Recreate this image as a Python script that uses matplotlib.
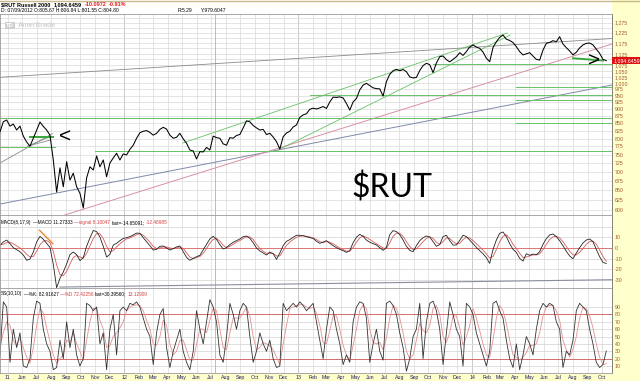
import matplotlib
matplotlib.use("Agg")
import matplotlib.pyplot as plt
import pandas as pd
from matplotlib.patches import Rectangle
from matplotlib.ticker import NullLocator

plt.rcParams["font.family"] = ["Liberation Sans", "DejaVu Sans"]

W, H = 640, 381

# weekly closes
weeks = pd.date_range("2011-04-15", periods=183, freq="W-FRI")
close = [
    822, 856, 862, 841, 848, 828, 841, 808, 789, 776,
    801, 828, 855, 840, 828, 811, 734, 645, 711, 659,
    729, 677, 696, 659, 642, 605, 683, 714, 705, 746,
    714, 734, 686, 725, 740, 754, 734, 752, 749, 766,
    779, 801, 819, 824, 826, 820, 811, 817, 830, 837,
    831, 811, 801, 804, 817, 799, 785, 764, 761, 737,
    759, 758, 772, 764, 808, 803, 801, 783, 779, 803,
    801, 810, 813, 835, 859, 856, 843, 835, 828, 830,
    813, 817, 805, 790, 767, 806, 818, 824, 838, 845,
    871, 880, 884, 900, 904, 901, 905, 910, 903, 927,
    945, 944, 946, 942, 921, 897, 927, 940, 973, 992,
    999, 990, 981, 978, 977, 949, 1006, 1036, 1051, 1057,
    1051, 1056, 1047, 1025, 1021, 1023, 1052, 1073, 1083, 1077,
    1043, 1084, 1112, 1115, 1099, 1089, 1100, 1112, 1130, 1118,
    1135, 1156, 1166, 1156, 1150, 1133, 1105, 1090, 1154, 1181,
    1202, 1213, 1193, 1187, 1177, 1158, 1135, 1120, 1125, 1130,
    1115, 1100, 1097, 1142, 1173, 1178, 1186, 1181, 1205, 1170,
    1153, 1138, 1120, 1132, 1152, 1166, 1173, 1175, 1166, 1146,
    1127, 1100, 1094.65,
]
macd = [
    2.5, 5.7, 7.5, 4.1, 0.3, -1.6, -3.5, -6.6, -11.6, -10.4,
    -3.8, 5.7, 11.0, 8.2, 4.4, 0.6, -15.4, -37.5, -28.6, -22.6,
    -15.1, -6.3, -3.8, -6.3, -11.9, -9.1, 1.6, 9.4, 16.5, 15.4,
    10.4, 1.6, -8.5, -6.0, 2.8, 4.4, 6.9, 9.1, 9.7, 10.7,
    12.3, 14.1, 13.8, 9.7, 6.0, 2.2, -1.9, -1.3, 1.6, 1.9,
    0.0, -1.9, -0.6, 1.0, 1.9, -3.5, -8.8, -11.6, -9.8, -8.2,
    -6.9, -1.6, 3.5, 8.5, 11.0, 8.2, 3.2, -0.9, 0.3, 3.2,
    5.4, 6.9, 8.5, 10.7, 11.3, 9.1, 5.0, 0.0, -2.8, -4.7,
    -6.6, -3.8, -5.4, -10.7, -4.7, 2.2, 6.3, 7.9, 10.1, 12.0,
    12.0, 11.6, 10.7, 9.7, 9.1, 6.3, 4.4, 5.7, 6.9, 4.4,
    2.2, 0.3, -1.3, -2.5, -4.1, -2.5, 5.0, 10.1, 12.9, 11.0,
    7.5, 5.4, 4.1, 2.8, 0.3, -2.2, 0.6, 12.6, 16.4, 15.4,
    12.6, 7.5, 1.6, -2.2, -3.5, 2.2, 6.9, 9.7, 11.3, 10.4,
    6.0, 1.6, 3.2, 10.7, 12.0, 6.9, 2.8, 2.8, 7.2, 12.0,
    10.7, 7.5, 4.1, 0.6, -2.5, -5.4, -9.1, -14.5, -1.3, 7.5,
    13.8, 15.1, 10.7, 4.1, -1.3, -4.1, -9.8, -12.3, -5.4, -6.9,
    -5.7, -6.3, -3.5, 3.5, 8.8, 12.3, 13.2, 10.7, 6.9, 2.2,
    -3.1, -7.5, -10.1, -4.7, 0.3, 4.7, 7.5, 8.5, 6.0, -1.3,
    -8.2, -13.5, -14.65,
]
signal = [
    3, 3.5, 5, 5.5, 4, 2, 0, -2.5, -6, -8.5,
    -8, -3, 3, 6.5, 7, 5, -3, -16, -25, -26,
    -22, -15, -9, -7, -8.5, -9.5, -5, 2, 9, 13.5,
    13.5, 9, 1.5, -3.5, -2.5, 1, 4, 6.5, 8.5, 9.5,
    11, 12.5, 13.5, 12, 9, 5.5, 1.5, -0.5, 0, 1,
    1, 0, -0.5, 0, 1, -0.5, -4.5, -8.5, -10, -9,
    -8, -5, -0.5, 4.5, 8.1, 9, 6.5, 2.5, 0.5, 1.5,
    3.5, 5.5, 7, 9, 10.5, 10.5, 8, 3.5, -0.5, -3,
    -5, -5, -5, -7.5, -7.5, -2.5, 2.5, 5.5, 8, 10,
    11, 11.5, 11, 10.5, 9.5, 8, 6, 5, 6, 5.5,
    4, 2, 0, -1.5, -3, -3, 0.5, 5.5, 9.5, 11.5,
    10, 8, 6, 4, 2, 0, -0.5, 5, 11, 14,
    14, 11, 6, 1.5, -1.5, -1, 2.5, 6, 9, 10.5,
    9, 5.5, 3.5, 6, 9.5, 9, 6, 4, 4.5, 8,
    10, 9.5, 7, 4, 1, -2, -5.5, -9.5, -8, -1.5,
    6, 11, 12.5, 9, 3.5, -0.5, -5, -9, -8.5, -7.5,
    -6.5, -6.5, -5.5, -1.5, 3.5, 8, 10.5, 11, 9.5, 6,
    1.5, -3, -6.5, -6.5, -4, -0.5, 3.5, 6, 6.5, 3.5,
    -2, -8, -12.49,
]
pct_k = [
    25, 97, 90, 15, 60, 35, 55, 10, 8, 20,
    75, 98, 95, 60, 40, 30, 5, 8, 45, 20,
    70, 35, 60, 25, 10, 20, 95, 92, 85, 90,
    40, 55, 5, 60, 80, 25, 85, 90, 85, 95,
    93, 97, 90, 75, 60, 50, 12, 55, 80, 88,
    35, 8, 30, 45, 60, 30, 15, 5, 30, 85,
    60, 40, 70, 100, 90, 70, 25, 15, 50, 95,
    80, 60, 85, 95, 90, 50, 15, 30, 55, 40,
    30, 45, 20, 8, 10, 95, 85, 90, 95, 90,
    97, 92, 85, 90, 95, 70, 45, 20, 60, 90,
    85, 60, 40, 12, 25, 15, 70, 90, 97, 95,
    75, 15, 40, 60, 30, 18, 95, 98, 92, 80,
    55, 35, 3, 20, 50, 60, 95, 20, 70, 95,
    98, 85, 60, 12, 55, 97, 80, 60, 50, 10,
    95, 90, 80, 55, 40, 25, 10, 30, 95, 98,
    85, 75, 45, 20, 8, 40, 5, 25, 50, 40,
    25, 60, 85, 95, 90, 95, 92, 70, 60, 8,
    30, 25, 45, 85, 95, 90, 85, 60, 40, 15,
    8, 12, 30.4,
]
pct_d = [
    35, 55, 70, 65, 45, 38, 48, 35, 22, 14,
    35, 65, 88, 82, 62, 43, 25, 14, 20, 25,
    45, 42, 55, 40, 30, 18, 45, 70, 88, 88,
    72, 60, 35, 38, 50, 55, 62, 70, 85, 90,
    92, 93, 92, 85, 72, 60, 40, 38, 50, 72,
    65, 40, 25, 30, 45, 45, 32, 18, 18, 40,
    60, 60, 55, 72, 88, 85, 60, 35, 32, 55,
    75, 75, 75, 82, 90, 78, 50, 32, 35, 42,
    40, 38, 32, 22, 12, 40, 65, 88, 90, 92,
    93, 93, 90, 88, 90, 82, 65, 42, 40, 58,
    78, 78, 60, 38, 25, 18, 38, 60, 85, 93,
    88, 60, 42, 40, 42, 32, 48, 75, 92, 88,
    75, 55, 30, 20, 25, 45, 68, 58, 55, 65,
    88, 92, 80, 50, 42, 55, 78, 78, 62, 38,
    50, 65, 88, 75, 58, 40, 25, 22, 45, 75,
    92, 85, 68, 45, 25, 22, 18, 22, 28, 38,
    38, 40, 55, 78, 90, 92, 92, 85, 72, 45,
    32, 22, 32, 50, 75, 90, 88, 78, 62, 40,
    22, 12, 13.1,
]

VIEW = (pd.Timestamp("2011-04-15"), pd.Timestamp("2014-10-22"))
CURSOR = pd.Timestamp("2012-07-09")
LAST = 1094.6459

grid_levels = list(range(600, 1301, 25))
label_levels = [v for v in grid_levels if v <= 1075 or v % 50 == 25]
macd_levels = [20, 10, 0, -10, -20, -30]
ss_levels = list(range(10, 100, 10))

# drawn studies: (start date, value, end date, value)
gray_lines = [("2011-04-15", 1023.6, "2014-10-22", 1196.4),
              ("2011-04-15", 725, "2011-08-03", 816),
              ("2011-06-12", 776, "2011-07-29", 806),
              ("2011-06-12", 776, "2011-07-29", 795)]
support_line = ("2011-04-15", 614.7, "2014-10-22", 992.3)
pink_line = ("2011-08-29", 588.2, "2014-10-22", 1170.3)
channel = [("2012-05-03", 785.7, "2014-03-16", 1223.2),
           ("2012-11-19", 763.9, "2014-03-22", 1213.4)]
green_levels = [(868.6, "2011-04-15", "2014-10-22"),
                (772, "2011-04-15", "2011-08-09"),
                (760, "2011-10-31", "2014-10-22"),
                (953, "2013-01-25", "2014-10-22"),
                (1079, "2013-10-11", "2014-10-22"),
                (985, "2014-04-03", "2014-10-22"),
                (934, "2014-04-03", "2014-10-22"),
                (852, "2014-04-03", "2014-10-22")]
green_thick = [("2011-06-17", 806, "2011-08-04", 806),
               ("2014-08-01", 1105, "2014-10-03", 1095)]
macd_orange = ("2011-07-07", 16.7, "2011-08-04", 4.1)
macd_gray = ("2011-08-19", -36.8, "2014-10-22", -29.9)

month_starts = pd.date_range("2011-05-01", "2014-10-01", freq="MS")
month_labels = []
for i, m in enumerate(month_starts):
    if i == 0 or m.month == 1:
        month_labels.append(m.strftime("%y"))
    else:
        month_labels.append(m.strftime("%b"))

GRID = "#d9d9d9"
YEARGRID = "#b4b4b4"
LABEL_C = "#a0592b"
GREEN = "#66c266"
RED_TXT = "#d84040"


def seg(ax, s, **kw):
    ax.plot([pd.Timestamp(s[0]), pd.Timestamp(s[2])], [s[1], s[3]], **kw)


def frac(x, y):
    return x / W, 1 - y / H


def make_axes(fig, top, bottom):
    ax = fig.add_axes([0, 1 - bottom / H, 612 / W, (bottom - top) / H])
    ax.set_facecolor("white")
    ax.set_xlim(*VIEW)
    for m in month_starts:
        ax.axvline(m, color=YEARGRID if m.month == 1 else GRID, lw=0.5, zorder=0)
    ax.axvline(CURSOR, color="#e89a9a", lw=0.6, zorder=1)
    ax.set_xticks([])
    for s in ax.spines.values():
        s.set_color("#9a9a9a")
        s.set_linewidth(0.6)
    ax.spines["right"].set_color("#6e6e6e")
    ax.tick_params(axis="y", left=False, labelleft=False, right=False,
                   labelright=True, length=0, pad=2, labelsize=3.8,
                   labelcolor=LABEL_C)
    return ax


def chain(fig, y, pieces, size, weight="normal", x0=1.0, gap=2.0):
    """write coloured pieces one after the other on a header row"""
    rend = fig.canvas.get_renderer()
    x = x0
    for txt, col in pieces:
        t = fig.text(*frac(x, y), txt, fontsize=size, color=col,
                     weight=weight, va="center")
        x = t.get_window_extent(renderer=rend).x1 + gap


fig = plt.figure(figsize=(W / 100, H / 100), dpi=100, facecolor="#ffffcc")

# ---- price panel
ax = make_axes(fig, 14, 215)
ax.set_yscale("log")
ax.set_ylim(588.2, 1320.4)
ax.yaxis.set_minor_locator(NullLocator())
for v in grid_levels:
    ax.axhline(v, color=GRID, lw=0.5, zorder=0)
ax.set_yticks(label_levels)
ax.set_yticklabels([f"{v:,}" for v in label_levels])

for s in gray_lines:
    seg(ax, s, color="#8a8a8a", lw=0.6)
seg(ax, support_line, color="#7f8aa8", lw=0.7)
seg(ax, pink_line, color="#d890a4", lw=0.7)
for s in channel:
    seg(ax, s, color=GREEN, lw=0.6)
for v, a, b in green_levels:
    ax.plot([pd.Timestamp(a), pd.Timestamp(b)], [v, v], color=GREEN, lw=0.7)
for s in green_thick:
    seg(ax, s, color="#3aa83a", lw=1.4)
ax.plot(weeks, close, color="black", lw=0.75, zorder=5)

ax.text(1.002, LAST, f"{LAST:,.4f}", transform=ax.get_yaxis_transform(),
        ha="left", va="center", fontsize=3.8, color="white", clip_on=False,
        bbox=dict(facecolor="#e01010", edgecolor="none", pad=1.0))

# ---- MACD panel
am = make_axes(fig, 215, 288)
am.set_ylim(-37.7, 31.1)
for v in macd_levels:
    am.axhline(v, color="#d66060" if v == 0 else GRID, lw=0.6, zorder=0)
am.set_yticks(macd_levels[1:])
am.set_yticklabels([str(v) for v in macd_levels[1:]])
seg(am, macd_orange, color="#e8862a", lw=1.0)
seg(am, macd_gray, color="#8a8fa0", lw=0.8)
am.plot(weeks, signal, color="#d85a5a", lw=0.6)
am.plot(weeks, macd, color="#222222", lw=0.6)

# ---- stochastic panel
ass = make_axes(fig, 288, 373.4)
ass.set_ylim(0, 115.8)
for v in ss_levels:
    ass.axhline(v, color="#cc5555" if v in (20, 80) else GRID,
                lw=0.6, zorder=0)
ass.set_yticks(ss_levels)
ass.set_yticklabels([str(v) for v in ss_levels])
ass.plot(weeks, pct_d, color="#e49090", lw=0.6)
ass.plot(weeks, pct_k, color="#333333", lw=0.6)
ass.set_xticks(month_starts)
ass.set_xticklabels(month_labels)
ass.tick_params(axis="x", length=0, pad=1.5, labelsize=3.8,
                labelcolor="#22225e")

# ---- header and annotations
fig.patches.append(Rectangle((0, 1 - 14 / H), 612 / W, 14 / H,
                             transform=fig.transFigure, facecolor="white",
                             edgecolor="none", zorder=0))
fig.add_artist(plt.Line2D([0, 1], [1 - 0.5 / H] * 2, color="#c8b88a", lw=1.0))

chain(fig, 4.5, [("$RUT Russell 2000", "black"), ("1,094.6459", "black"),
                 ("-10.0972", "#e02020"), ("-0.91%", "#e02020")],
      size=4.0, weight="bold", gap=3)
chain(fig, 11, [("D: 07/09/2012 O:805.67 H:806.84 L:801.55 C:804.80", "black")],
      size=3.6)
chain(fig, 11, [("R:5.29", "black")], size=3.6, x0=178)
chain(fig, 11, [("Y:979.6047", "black")], size=3.6, x0=201)

fig.text(*frac(6, 25.5), "TD", fontsize=4.2, weight="bold", color="white",
         va="center", bbox=dict(facecolor="#cfcfcf", edgecolor="none", pad=0.8))
fig.text(*frac(18, 25.5), "Ameritrade", fontsize=5.2, weight="bold",
         color="#d2d2d2", va="center")

chain(fig, 222.5, [("MACD(8,17,9)", "black"), ("\u2014MACD 11.27333", "black"),
                   ("\u2014signal 8.10047", RED_TXT),
                   ("last=-14.65091;", "black"), ("-12.48985", RED_TXT)],
      size=3.4, gap=1.5)
chain(fig, 294, [("SS(10,10)", "black"), ("\u2014%K: 82.91627", "black"),
                 ("\u2014%D 72.42256", RED_TXT),
                 ("last=30.39560;", "black"), ("13.12909", RED_TXT)],
      size=3.4, gap=1.5)

fig.text(*frac(65, 137.5), "<", fontsize=15, color="black",
         ha="center", va="center")
fig.text(*frac(594, 61), ">", fontsize=15, color="black",
         ha="center", va="center")
fig.text(*frac(392, 188), "$RUT", fontsize=23, family=["Lato", "DejaVu Sans"],
         color="black", ha="center", va="center")

fig.savefig("out.png", dpi=100, facecolor=fig.get_facecolor())
